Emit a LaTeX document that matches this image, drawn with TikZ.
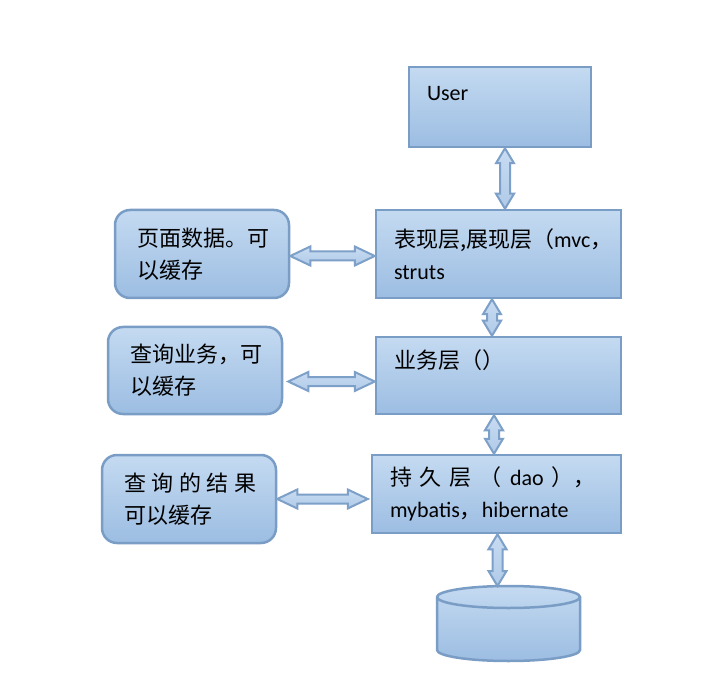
\documentclass[tikz,border=0pt]{standalone}
\usepackage{fontspec}
\setmainfont{Carlito}
\newfontfamily\cjk{Noto Sans CJK SC}
\usepackage{xcolor}
\usetikzlibrary{calc,positioning}
\definecolor{boxline}{RGB}{122,157,198}
\definecolor{boxtop}{RGB}{196,218,241}
\definecolor{boxbot}{RGB}{156,189,226}
\definecolor{arrowline}{RGB}{125,160,200}
\definecolor{arrowtop}{RGB}{200,220,242}
\definecolor{arrowbot}{RGB}{176,202,232}
% block arrows with two heads
\newcommand\harrow[2]{\path[dblarrow] let \p1=(#1), \p2=(#2) in
  (\x1,\y1) -- (\x1+20pt,\y1+9.5pt) -- (\x1+20pt,\y1+4.5pt) -- (\x2-20pt,\y1+4.5pt)
  -- (\x2-20pt,\y1+9.5pt) -- (\x2,\y1) -- (\x2-20pt,\y1-9.5pt) -- (\x2-20pt,\y1-4.5pt)
  -- (\x1+20pt,\y1-4.5pt) -- (\x1+20pt,\y1-9.5pt) -- cycle;}
\newcommand\varrow[2]{\path[dblarrow] let \p1=(#1), \p2=(#2) in
  (\x1,\y1) -- (\x1+9pt,\y1-15pt) -- (\x1+5pt,\y1-15pt) -- (\x1+5pt,\y2+15pt)
  -- (\x1+9pt,\y2+15pt) -- (\x1,\y2) -- (\x1-9pt,\y2+15pt) -- (\x1-5pt,\y2+15pt)
  -- (\x1-5pt,\y1-15pt) -- (\x1-9pt,\y1-15pt) -- cycle;}
\begin{document}
\begin{tikzpicture}[x=1pt,y=-1pt]
\tikzset{layer/.style = {shape=rectangle,draw=boxline,line width=2.5pt,top color=boxtop,bottom color=boxbot,inner xsep=18pt,inner ysep=0pt,align=left,font=\fontsize{22}{32}\selectfont}}
\tikzset{cache/.style = {layer,rounded corners=15pt,inner xsep=22pt,font=\fontsize{22}{32}\selectfont\cjk}}
\tikzset{store/.style = {draw=boxline,line width=2.5pt,top color=boxtop,bottom color=boxbot}}
\tikzset{dblarrow/.style = {draw=arrowline,line width=2pt,top color=arrowtop,bottom color=arrowbot}}
\useasboundingbox (0,0) rectangle (717,692);
\node[layer,text width=146pt,minimum height=80pt] (user) at (500,107) {\rule{0pt}{19pt}User\\\mbox{}};
\node[layer,text width=209pt,minimum height=88pt] (pres) at (498.5,254) {{\cjk 表现层,展现层（}mvc{\cjk ，}\\struts};
\node[layer,text width=209pt,minimum height=77pt] (biz) at (498.5,375.5) {{\cjk 业务层（）}\\\mbox{}};
\node[layer,text width=213pt,minimum height=78pt] (dao) at (496.5,494) {{\cjk 持\kern8pt 久\kern8pt 层\kern8pt （}\kern8pt dao\kern8pt{\cjk ），}\\mybatis{\cjk ，}hibernate};
\node[cache,text width=130pt,minimum height=88pt] (pagecache) at (202,254) {页面数据。可\\以缓存};
\node[cache,text width=130pt,minimum height=87pt] (querycache) at (195,370.5) {查询业务，可\\以缓存};
\node[cache,text width=130pt,minimum height=88pt] (resultcache) at (189,499) {查\kern5.5pt 询\kern5.5pt 的\kern5.5pt 结\kern5.5pt 果\\可以缓存};
% database
\path[store] (437,597) -- (437,650) arc[start angle=180,end angle=360,x radius=71.5pt,y radius=11pt]
  -- (580,597) arc[start angle=0,end angle=180,x radius=71.5pt,y radius=11pt] -- cycle;
\draw[boxline,line width=2.5pt] (437,597) arc[start angle=180,end angle=360,x radius=71.5pt,y radius=11pt];
\coordinate (db) at (508.5,586);
\varrow{[xshift=5pt]user.south}{pres.north}
\varrow{[xshift=-6.5pt]pres.south}{biz.north}
\varrow{[xshift=-4.5pt]biz.south}{dao.north}
\varrow{[xshift=1pt]dao.south}{db}
\harrow{[yshift=-2pt]pagecache.east}{pres.west}
\harrow{[xshift=5pt,yshift=-11pt]querycache.east}{biz.west}
\harrow{resultcache.east}{[xshift=-3pt]dao.west}
\end{tikzpicture}
\end{document}
